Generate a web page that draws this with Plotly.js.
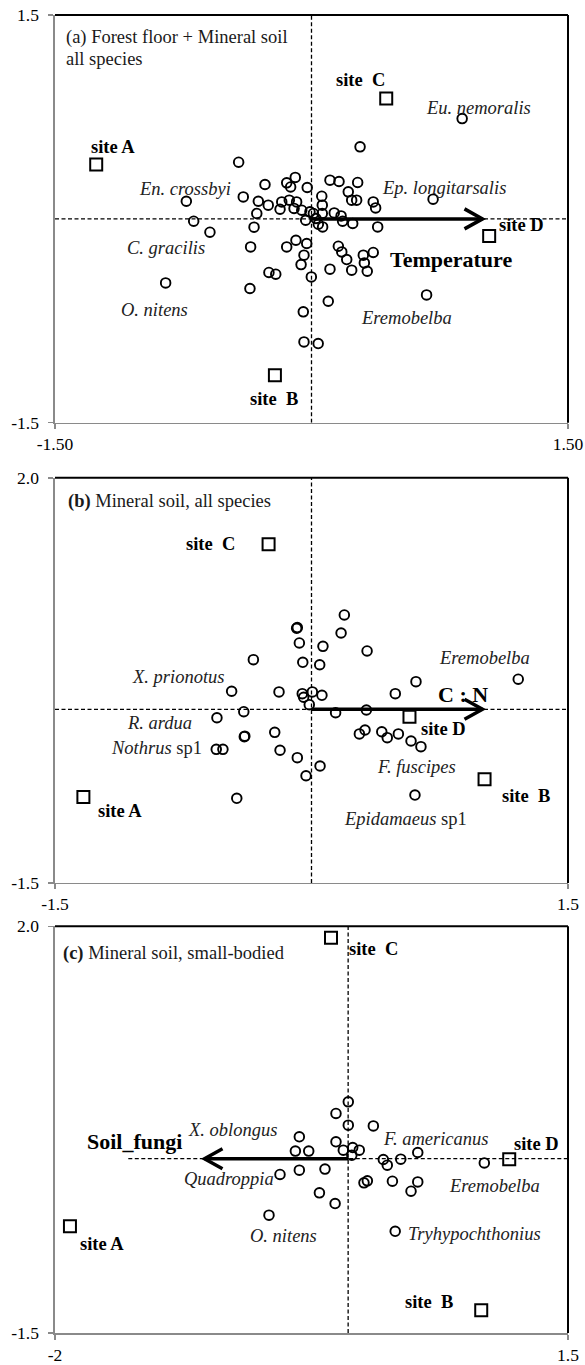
<!DOCTYPE html>
<html>
<head>
<meta charset="utf-8">
<script src="https://cdn.plot.ly/plotly-3.0.1.min.js"></script>
<style>
  html, body { margin: 0; padding: 0; background: #ffffff; }
  #chart { width: 585px; height: 1365px; }
</style>
</head>
<body>
<div id="chart"></div>
<script>
// ---------- (a) Forest floor + Mineral soil, all species ----------
const aSpeciesX = [0.284, -0.426, -0.732, -0.689, -0.594, -0.853, -0.399, -0.272, -0.311, -0.253,
  -0.320, -0.336, -0.356, -0.360, -0.249, -0.209, -0.145, -0.095, -0.122, -0.025,
  -0.174, -0.130, -0.087, -0.184, -0.102, -0.057, -0.009, 0.011, -0.034, 0.026,
  0.040, 0.063, 0.063, 0.065, 0.060, 0.108, 0.161, 0.270, 0.215, 0.235,
  0.264, 0.133, 0.173, 0.182, 0.241, 0.361, 0.375, 0.387, -0.091, -0.028,
  -0.044, -0.061, -0.145, -0.001, 0.108, 0.157, 0.177, 0.206, 0.235, 0.303,
  0.309, 0.326, 0.361, 0.098, -0.048, 0.881, 0.711, 0.673, -0.044, 0.039];
const aSpeciesY = [0.530, 0.417, 0.130, -0.017, -0.098, -0.471, 0.162, 0.253, 0.130, 0.101,
  0.040, -0.061, -0.206, -0.512, -0.394, -0.407, 0.265, 0.305, 0.235, 0.231,
  0.125, 0.138, 0.125, 0.071, 0.077, 0.064, 0.052, 0.040, -0.010, 0.003,
  -0.039, 0.101, 0.040, -0.059, 0.167, 0.285, 0.275, 0.268, 0.199, 0.138,
  0.138, 0.044, 0.022, -0.017, -0.034, 0.125, 0.081, -0.059, -0.157, -0.181,
  -0.267, -0.336, -0.206, -0.427, -0.370, -0.201, -0.243, -0.299, -0.377, -0.267,
  -0.324, -0.385, -0.247, -0.606, -0.684, 0.738, 0.145, -0.559, -0.905, -0.917];
const aSiteX = [-1.259, -0.214, 0.437, 1.039];
const aSiteY = [0.400, -1.150, 0.886, -0.125];
const aVectorName = 'Temperature';
const aVector = [1.0, 0.0];

// ---------- (b) Mineral soil, all species ----------
const bSpeciesX = [0.192, -0.087, -0.083, 0.173, -0.071, 0.067, 0.325, -0.340, -0.051, 0.048,
  0.611, -0.467, -0.190, -0.054, 0.005, 0.061, -0.046, -0.013, 0.490, -0.396,
  0.141, 0.321, -0.553, -0.393, -0.390, -0.215, -0.557, -0.518, -0.184, -0.083,
  0.050, -0.032, 0.280, 0.313, 0.411, 0.443, 0.508, 0.582, 0.640, 0.605,
  -0.437, 1.209];
const bSpeciesY = [0.815, 0.700, 0.706, 0.659, 0.573, 0.544, 0.504, 0.429, 0.406, 0.385,
  0.239, 0.156, 0.150, 0.135, 0.150, 0.121, 0.104, 0.040, 0.135, -0.021,
  -0.029, -0.006, -0.073, -0.237, -0.232, -0.199, -0.346, -0.346, -0.354, -0.418,
  -0.490, -0.574, -0.213, -0.179, -0.194, -0.245, -0.213, -0.274, -0.323, -0.741,
  -0.769, 0.260];
const bSiteX = [-1.334, 1.012, -0.251, 0.573];
const bSiteY = [-0.757, -0.604, 1.427, -0.065];
const bVectorName = 'C : N';
const bVector = [1.0, 0.0];

// ---------- (c) Mineral soil, small-bodied ----------
const cSpeciesX = [0.001, -0.083, 0.001, 0.172, -0.333, -0.083, -0.360, -0.269, -0.033, 0.031,
  0.076, 0.025, 0.240, 0.267, 0.359, 0.475, -0.333, -0.158, -0.465, 0.108,
  0.131, 0.302, 0.475, 0.429, -0.196, -0.089, -0.540, 0.929, 0.321];
const cSpeciesY = [0.489, 0.389, 0.288, 0.282, 0.188, 0.145, 0.065, 0.065, 0.073, 0.096,
  0.073, 0.030, -0.007, -0.056, -0.004, 0.053, -0.099, -0.090, -0.136, -0.208,
  -0.191, -0.194, -0.200, -0.280, -0.294, -0.386, -0.486, -0.037, -0.625];
const cSiteX = [-1.898, 0.908, -0.117, 1.099];
const cSiteY = [-0.582, -1.305, 1.900, -0.005];
const cVectorName = 'Soil_fungi';
const cVector = [-0.98, 0.0];

// Site names in the order A, B, C, D
const siteNames = ['site A', 'site\u00a0 B', 'site\u00a0 C', 'site D'];

// Axis ranges and end tick labels
const xRanges = [[-1.5, 1.5], [-1.5, 1.5], [-2, 1.5]];
const yRanges = [[-1.5, 1.5], [-1.5, 2.0], [-1.5, 2.0]];
const xTickText = [['-1.50', '1.50'], ['-1.5', '1.5'], ['-2', '1.5']];
const yTickText = [['-1.5', '1.5'], ['-1.5', '2.0'], ['-1.5', '2.0']];

// ---------- page geometry ----------
const FONT = 'Liberation Serif, Times New Roman, serif';
const W = 585, H = 1365;
const plotLeft = 55, plotRight = 568;
const panelPx = [[15, 422.7], [477.7, 882.7], [926, 1332.7]];
const topPx = panelPx[0][0], botPx = panelPx[2][1];
const frac = px => (botPx - px) / (botPx - topPx);

const panels = [
  { sx: aSpeciesX, sy: aSpeciesY, tx: aSiteX, ty: aSiteY, vname: aVectorName, v: aVector },
  { sx: bSpeciesX, sy: bSpeciesY, tx: bSiteX, ty: bSiteY, vname: bVectorName, v: bVector },
  { sx: cSpeciesX, sy: cSpeciesY, tx: cSiteX, ty: cSiteY, vname: cVectorName, v: cVector }
];

// label placement per panel (data coordinates)
const siteLabelPos = [
  [[-1.159, 0.530], [-0.219, -1.327], [0.289, 1.020], [1.229, -0.047]],
  [[-1.120, -0.878], [1.253, -0.751], [-0.588, 1.424], [0.770, -0.172]],
  [[-1.681, -0.731], [0.551, -1.233], [0.176, 1.802], [1.286, 0.130]]
];
const vectorLabelPos = [[0.813, -0.297], [0.886, 0.128], [-1.459, 0.150]];
const speciesLabels = [
  [['<i>Eu. nemoralis</i>', 0.975, 0.817], ['<i>Ep. longitarsalis</i>', 0.776, 0.228],
   ['<i>En. crossbyi</i>', -0.739, 0.218], ['<i>C. gracilis</i>', -0.853, -0.211],
   ['<i>O. nitens</i>', -0.918, -0.672], ['<i>Eremobelba</i>', 0.553, -0.729]],
  [['<i>Eremobelba</i>', 1.012, 0.444], ['<i>X. prionotus</i>', -0.783, 0.280],
   ['<i>R. ardua</i>', -0.890, -0.117], ['<i>Nothrus</i> sp1', -0.907, -0.336],
   ['<i>F. fuscipes</i>', 0.612, -0.498], ['<i>Epidamaeus</i> sp1', 0.551, -0.944]],
  [['<i>X. oblongus</i>', -0.788, 0.244], ['<i>F. americanus</i>', 0.597, 0.167],
   ['<i>Quadroppia</i>', -0.814, -0.172], ['<i>Eremobelba</i>', 0.997, -0.235],
   ['<i>O. nitens</i>', -0.444, -0.668], ['<i>Tryhypochthonius</i>', 0.865, -0.645]]
];
const panelTitles = [
  [['(a) Forest floor + Mineral soil', -1.446, 1.335], ['all species', -1.446, 1.173]],
  [['<b>(b)</b> Mineral soil, all species', -1.437, 1.793]],
  [['<b>(c)</b> Mineral soil, small-bodied', -1.962, 1.765]]
];
// horizontal reference line extent in panel (c) is shorter than the axis
const hLineExtent = [null, null, [-1.5, 1.5]];

const traces = [];
const shapes = [];
const annotations = [];
const layout = {
  width: W, height: H,
  margin: { l: plotLeft, r: W - plotRight, t: topPx, b: H - botPx, pad: 0 },
  paper_bgcolor: '#ffffff', plot_bgcolor: '#ffffff',
  showlegend: false,
  font: { family: FONT, size: 17, color: '#000000' }
};

panels.forEach((p, i) => {
  const n = i === 0 ? '' : String(i + 1);
  const xa = 'x' + n, ya = 'y' + n;
  const axisCommon = {
    showgrid: false, zeroline: false, showline: true,
    linecolor: '#8a8a8a', linewidth: 1.6,
    ticks: 'outside', ticklen: 5, tickwidth: 1.4, tickcolor: '#8a8a8a',
    tickfont: { family: FONT, size: 17.5, color: '#000000' },
    tickmode: 'array', fixedrange: true
  };
  layout['xaxis' + n] = Object.assign({}, axisCommon, {
    domain: [0, 1], anchor: ya, range: xRanges[i],
    tickvals: xRanges[i], ticktext: xTickText[i], ticklabelstandoff: 0
  });
  layout['yaxis' + n] = Object.assign({}, axisCommon, {
    domain: [frac(panelPx[i][1]), frac(panelPx[i][0])], anchor: xa, range: yRanges[i],
    tickvals: yRanges[i], ticktext: yTickText[i], ticklabelstandoff: 6
  });

  // species
  traces.push({
    type: 'scatter', mode: 'markers', x: p.sx, y: p.sy, xaxis: xa, yaxis: ya,
    marker: { symbol: 'circle-open', size: 9.6, color: '#000000', line: { width: 1.9, color: '#000000' } },
    hoverinfo: 'skip'
  });
  // sites
  traces.push({
    type: 'scatter', mode: 'markers', x: p.tx, y: p.ty, xaxis: xa, yaxis: ya, text: siteNames,
    marker: { symbol: 'square-open', size: 12, color: '#000000', line: { width: 2, color: '#000000' } },
    hoverinfo: 'skip'
  });

  // black top and right frame edges
  shapes.push({ type: 'line', xref: xa + ' domain', yref: ya + ' domain', x0: 0, x1: 1, y0: 1, y1: 1,
    line: { color: '#000000', width: 2 } });
  shapes.push({ type: 'line', xref: xa + ' domain', yref: ya + ' domain', x0: 1, x1: 1, y0: 0, y1: 1,
    line: { color: '#000000', width: 2 } });

  // dashed reference lines through the origin
  const hx = hLineExtent[i] || xRanges[i];
  shapes.push({ type: 'line', layer: 'below', xref: xa, yref: ya, x0: hx[0], x1: hx[1], y0: 0, y1: 0,
    line: { color: '#000000', width: 1.3, dash: '4px,2.5px' } });
  shapes.push({ type: 'line', layer: 'below', xref: xa, yref: ya, x0: 0, x1: 0, y0: yRanges[i][0], y1: yRanges[i][1],
    line: { color: '#000000', width: 1.3, dash: '4px,2.5px' } });

  // environmental vector: shaft and open arrow head
  shapes.push({ type: 'line', xref: xa, yref: ya, x0: 0, y0: 0, x1: p.v[0], y1: p.v[1],
    line: { color: '#000000', width: 3.5 } });
  const dir = p.v[0] >= 0 ? -1 : 1;
  shapes.push({ type: 'path', xref: xa, yref: ya, xsizemode: 'pixel', ysizemode: 'pixel',
    xanchor: p.v[0], yanchor: p.v[1],
    path: `M${dir * 18},10 L0,0 L${dir * 18},-10`,
    line: { color: '#000000', width: 3.5 } });

  // labels
  siteLabelPos[i].forEach((pos, k) => annotations.push({
    xref: xa, yref: ya, x: pos[0], y: pos[1], text: '<b>' + siteNames[k] + '</b>', showarrow: false,
    xanchor: 'center', yanchor: 'middle', font: { family: FONT, size: 18.5, color: '#000000' }
  }));
  annotations.push({
    xref: xa, yref: ya, x: vectorLabelPos[i][0], y: vectorLabelPos[i][1], text: '<b>' + p.vname + '</b>',
    showarrow: false, xanchor: 'center', yanchor: 'middle', font: { family: FONT, size: 22, color: '#000000' }
  });
  speciesLabels[i].forEach(s => annotations.push({
    xref: xa, yref: ya, x: s[1], y: s[2], text: s[0], showarrow: false,
    xanchor: 'center', yanchor: 'middle', font: { family: FONT, size: 18.5, color: '#222222' }
  }));
  panelTitles[i].forEach(t => annotations.push({
    xref: xa, yref: ya, x: t[1], y: t[2], text: t[0], showarrow: false,
    xanchor: 'left', yanchor: 'middle', font: { family: FONT, size: 18.5, color: '#1a1a1a' }
  }));
});

layout.shapes = shapes;
layout.annotations = annotations;

Plotly.newPlot('chart', traces, layout, { staticPlot: true, displayModeBar: false });
</script>
</body>
</html>
